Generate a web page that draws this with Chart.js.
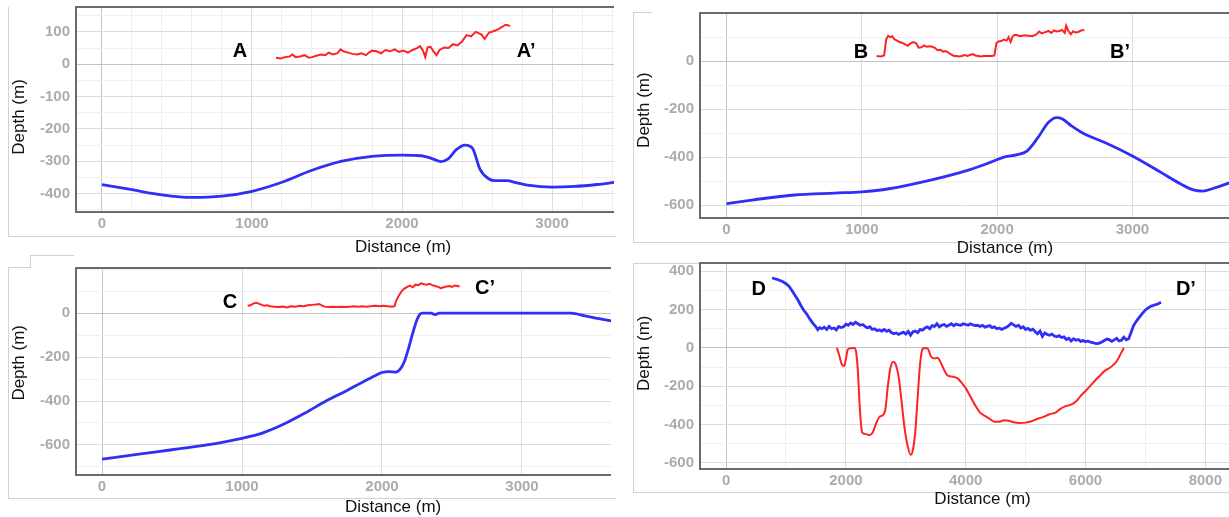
<!DOCTYPE html>
<html>
<head>
<meta charset="utf-8">
<title>Depth profiles A–D</title>
<script src="https://cdn.jsdelivr.net/npm/chart.js@4"></script>
<style>
  html, body { margin: 0; padding: 0; background: #fff; }
  body { width: 1229px; height: 517px; position: relative; overflow: hidden; }
  .clip { position: absolute; top: 0; height: 517px; overflow: hidden; }
  .clip canvas { position: absolute; }
  .frame { position: absolute; border: 0 solid #d2d2d2; }
</style>
</head>
<body>
<!-- light frames left over from the screenshots -->
<div class="frame" style="left:8px;top:7px;width:607px;height:229px;border-left-width:1px;border-bottom-width:1px"></div>
<div class="frame" style="left:633px;top:12px;width:596px;height:230px;border-left-width:1px;border-bottom-width:1px"></div>
<div class="frame" style="left:633px;top:12px;width:19px;height:0;border-top-width:1px"></div>
<div class="frame" style="left:8px;top:267px;width:607px;height:231px;border-left-width:1px;border-bottom-width:1px"></div>
<div class="frame" style="left:8px;top:267px;width:22px;height:0;border-top-width:1px"></div>
<div class="frame" style="left:30px;top:255px;width:43px;height:12px;border-left-width:1px;border-top-width:1px"></div>
<div class="frame" style="left:633px;top:263px;width:596px;height:229px;border-left-width:1px;border-bottom-width:1px"></div>
<div class="frame" style="left:633px;top:263px;width:67px;height:0;border-top-width:1px"></div>

<script>
// ---------- Profile A ----------
const redDistA = [1160,1190,1220,1250,1270,1290,1320,1350,1380,1400,
                  1430,1460,1490,1510,1540,1570,1590,1610,1640,1670,
                  1700,1730,1760,1780,1800,1830,1860,1890,1920,1950,
                  1980,2010,2040,2070,2100,2120,2140,2155,2170,2190,
                  2210,2230,2250,2280,2310,2340,2370,2400,2430,2460,
                  2490,2510,2530,2550,2580,2610,2640,2670,2690,2710,
                  2720];
const redDepthA = [20,18,22,24,30,22,24,28,20,22,
                   26,30,28,36,30,34,46,40,36,32,
                   30,34,28,36,42,40,34,44,40,46,
                   38,42,36,44,50,56,42,22,52,54,
                   40,28,44,52,50,62,58,70,90,86,
                   100,96,92,78,98,102,108,116,122,120,
                   118];
const blueDistA = [0,200,400,600,800,1000,1200,1400,1600,1800,
                   2000,2130,2200,2260,2310,2360,2420,2470,2520,2580,
                   2620,2700,2760,2850,3000,3150,3300,3420];
const blueDepthA = [-372,-388,-404,-412,-408,-393,-365,-328,-300,-285,
                    -281,-283,-292,-301,-292,-265,-250,-260,-325,-355,
                    -360,-360,-366,-375,-380,-378,-372,-365];
const xLabelsA = [0, 1000, 2000, 3000];
const yLabelsA = [100, 0, -100, -200, -300, -400];

// ---------- Profile B ----------
const redDistB = [1110,1140,1165,1180,1195,1210,1225,1240,1260,1280,
                  1300,1320,1340,1360,1380,1400,1420,1440,1460,1480,
                  1500,1520,1540,1560,1580,1600,1620,1640,1660,1680,
                  1700,1720,1740,1760,1780,1800,1820,1840,1860,1880,
                  1900,1930,1960,1980,1995,2010,2030,2050,2070,2085,
                  2100,2115,2130,2150,2170,2200,2230,2260,2290,2310,
                  2330,2350,2380,2400,2420,2440,2460,2480,2500,2510,
                  2525,2545,2560,2580,2600,2620,2645];
const redDepthB = [22,20,24,90,106,100,104,92,86,80,
                   76,70,64,74,80,76,56,58,66,60,
                   62,60,56,46,48,40,42,36,28,22,
                   22,20,22,26,22,26,30,24,22,20,
                   22,22,22,24,76,82,84,90,86,100,
                   80,104,110,108,104,108,106,104,112,124,
                   116,120,126,118,128,124,126,130,118,148,
                   128,112,124,120,122,128,130];
const blueDistB = [0,200,500,800,1000,1200,1500,1800,1950,2050,
                   2150,2220,2300,2380,2440,2480,2550,2650,2800,3000,
                   3200,3350,3450,3520,3600,3720];
const blueDepthB = [-595,-578,-558,-550,-545,-532,-497,-452,-422,-400,
                    -390,-375,-320,-255,-235,-240,-270,-305,-340,-395,
                    -460,-510,-537,-542,-530,-507];
const xLabelsB = [0, 1000, 2000, 3000];
const yLabelsB = [0, -200, -400, -600];

// ---------- Profile C ----------
const redDistC = [1040,1060,1080,1100,1120,1140,1160,1180,1200,
                  1230,1260,1290,1320,1350,1380,1410,1440,1470,1500,
                  1530,1550,1570,1590,1620,1650,1680,1710,1740,1770,
                  1800,1830,1860,1890,1920,1950,1980,2010,2040,2070,
                  2090,2100,2120,2140,2160,2180,2200,2220,2240,2260,
                  2280,2300,2320,2340,2360,2380,2400,2420,2440,2460,
                  2480,2500,2520,2540,2555];
const redDepthC = [34,36,44,48,44,38,34,36,32,
                   30,28,30,26,32,30,34,32,36,38,
                   40,42,36,30,28,30,28,30,28,30,
                   32,30,32,30,32,34,32,34,32,30,
                   32,55,80,100,112,120,126,118,130,128,
                   136,132,130,134,128,124,120,114,118,122,
                   124,120,126,124,122];
const blueDistC = [0,250,500,750,1000,1150,1300,1450,1600,1750,
                   1850,1950,2000,2050,2100,2130,2160,2190,2220,2250,
                   2270,2290,2350,2380,2410,2500,3000,3350,3450,3550,
                   3650];
const blueDepthC = [-665,-643,-622,-600,-570,-545,-505,-455,-400,-352,
                    -318,-285,-270,-266,-268,-255,-220,-160,-90,-30,
                    -5,0,0,-6,0,0,0,0,-12,-25,
                    -36];
const xLabelsC = [0, 1000, 2000, 3000];
const yLabelsC = [0, -200, -400, -600];

// ---------- Profile D ----------
const blueDistD = [770,800,850,900,950,1000,1050,1100,1150,1200,
                   1250,1300,1350,1400,1450,1500,1530,1560,1600,1640,
                   1680,1720,1760,1800,1840,1880,1920,1960,2000,2040,
                   2080,2120,2160,2200,2240,2280,2320,2360,2400,2440,
                   2480,2520,2560,2600,2640,2680,2720,2760,2800,2840,
                   2880,2920,2960,3000,3040,3080,3120,3160,3200,3240,
                   3280,3320,3360,3400,3440,3480,3520,3560,3600,3640,
                   3680,3720,3760,3800,3840,3880,3920,3960,4000,4040,
                   4080,4120,4160,4200,4240,4280,4320,4360,4400,4440,
                   4480,4520,4560,4600,4640,4680,4720,4760,4800,4840,
                   4880,4920,4960,5000,5040,5080,5120,5160,5200,5240,
                   5280,5320,5360,5400,5440,5480,5520,5560,5600,5640,
                   5680,5720,5760,5800,5840,5880,5920,5960,6000,6040,
                   6080,6120,6160,6200,6240,6280,6320,6360,6400,6440,
                   6480,6520,6560,6600,6640,6680,6720,6760,6800,6850,
                   6900,6950,7000,7050,7100,7150,7200,7260];
const blueDepthD = [365,362,358,352,345,335,322,300,275,250,
                    220,195,175,150,128,110,95,105,100,108,
                    96,112,100,104,94,112,106,110,124,118,
                    130,122,134,126,118,122,112,104,110,96,
                    100,90,94,88,96,86,92,80,74,78,
                    70,76,82,72,86,66,84,88,80,96,
                    92,104,110,100,116,112,126,110,118,122,
                    112,118,126,116,124,120,118,126,122,118,
                    126,120,116,118,112,118,108,112,116,106,
                    110,100,104,96,102,108,116,128,120,112,
                    118,104,110,96,102,92,98,84,74,88,
                    60,78,70,66,72,62,58,64,54,58,
                    44,50,36,48,40,44,34,38,32,36,
                    30,28,24,22,26,32,40,46,42,34,
                    42,50,36,40,56,42,48,80,115,140,
                    160,180,198,210,218,224,228,238];
const redDistD = [1850,1890,1930,1970,2000,2030,2080,2140,2170,2200,
                  2230,2270,2330,2400,2450,2510,2560,2620,2660,2700,
                  2740,2790,2830,2880,2930,2980,3030,3080,3120,3160,
                  3200,3240,3280,3320,3370,3420,3480,3530,3580,3640,
                  3700,3780,3860,3940,4000,4080,4160,4240,4320,4400,
                  4480,4560,4640,4720,4800,4900,5000,5100,5200,5300,
                  5400,5500,5580,5660,5760,5840,5920,6000,6080,6160,
                  6240,6320,6400,6460,6520,6580,6640];
const redDepthD = [0,-40,-85,-95,-60,-10,-2,0,-20,-120,
                   -300,-440,-450,-455,-440,-390,-360,-350,-320,-200,
                   -110,-72,-85,-150,-280,-420,-510,-558,-530,-430,
                   -250,-80,-5,0,-5,-45,-55,-52,-75,-115,
                   -145,-150,-158,-185,-210,-255,-300,-338,-355,-370,
                   -385,-385,-378,-380,-388,-392,-390,-383,-370,-360,
                   -346,-338,-318,-305,-296,-280,-250,-225,-198,-170,
                   -145,-120,-105,-90,-70,-35,0];
const xLabelsD = [0, 2000, 4000, 6000, 8000];
const yLabelsD = [400, 200, 0, -200, -400, -600];

// ---------- panel layout (page pixels) ----------
// x / y: [min, max, gridline step]
const panels = [
  { clip: [0, 614], canvas: [0, -23, 640, 283], plot: [76, 7, 614, 212],
    x: [-173, 3413, 200], y: [-457, 177, 50],
    xLabels: xLabelsA, yLabels: yLabelsA,
    red: [redDistA, redDepthA], blue: [blueDistA, blueDepthA], redSmooth: false, blueSmooth: true,
    letters: [['A', 920, 38], ['A\u2019', 2827, 38]],
    xTitle: [2007, 35], yTitle: [-163, 57] },
  { clip: [620, 1229], canvas: [620, -17, 640, 277], plot: [700, 13, 1229, 218],
    x: [-196, 3714, 1000], y: [-654, 201, 100],
    xLabels: xLabelsB, yLabels: yLabelsB,
    red: [redDistB, redDepthB], blue: [blueDistB, blueDepthB], redSmooth: false, blueSmooth: true,
    letters: [['B', 994, 37], ['B\u2019', 2908, 37]],
    xTitle: [2058, 30], yTitle: [-204, 56] },
  { clip: [0, 611], canvas: [0, 238, 640, 287], plot: [76, 268, 611, 475],
    x: [-186, 3636, 1000], y: [-737, 206, 100],
    xLabels: xLabelsC, yLabels: yLabelsC,
    red: [redDistC, redDepthC], blue: [blueDistC, blueDepthC], redSmooth: false, blueSmooth: true,
    letters: [['C', 914, 51], ['C\u2019', 2736, 111]],
    xTitle: [2079, 32], yTitle: [-226, 57] },
  { clip: [620, 1229], canvas: [620, 233, 640, 292], plot: [700, 263, 1229, 469],
    x: [-435, 8395, 1000], y: [-632, 443, 100],
    xLabels: xLabelsD, yLabels: yLabelsD,
    red: [redDistD, redDepthD], blue: [blueDistD, blueDepthD], redSmooth: true, blueSmooth: false,
    letters: [['D', 545, 307], ['D\u2019', 7676, 307]],
    xTitle: [4281, 30], yTitle: [-28, 56] }
];

const FONT = "'Liberation Sans', Arial, Helvetica, sans-serif";
const BLUE = '#2f2ff5';
const RED = '#ff2222';

// plot border, A/B/C/D letters and axis titles
const panelDecor = {
    id: 'panelDecor',
    afterDraw(chart, args, opts) {
        const { ctx, chartArea: a, scales: { x, y } } = chart;
        ctx.save();
        ctx.strokeStyle = '#6a6a6a';
        ctx.lineWidth = 2;
        ctx.beginPath();
        ctx.moveTo(a.right + 30, a.top);
        ctx.lineTo(a.left, a.top);
        ctx.lineTo(a.left, a.bottom);
        ctx.lineTo(a.right + 30, a.bottom);
        ctx.stroke();

        ctx.fillStyle = '#000';
        ctx.textAlign = 'center';
        ctx.textBaseline = 'middle';
        ctx.font = 'bold 20px ' + FONT;
        opts.letters.forEach(([t, vx, vy]) => {
            ctx.fillText(t, x.getPixelForValue(vx), y.getPixelForValue(vy));
        });

        ctx.font = '17px ' + FONT;
        ctx.fillStyle = '#111';
        ctx.fillText('Distance (m)', x.getPixelForValue(opts.xTitle[0]), a.bottom + opts.xTitle[1]);
        ctx.translate(a.left - opts.yTitle[1], y.getPixelForValue(opts.yTitle[0]));
        ctx.rotate(-Math.PI / 2);
        ctx.fillText('Depth (m)', 0, 0);
        ctx.restore();
    }
};

function toPoints(pair) {
    return pair[0].map((d, i) => ({ x: d, y: pair[1][i] }));
}

function gridColor(value, labels) {
    if (value === 0) return '#c4c4c4';
    if (labels.includes(value)) return '#dcdcdc';
    return '#efefef';
}

// gridline positions: every multiple of the step inside the range
// (Chart.js snaps big steps to the bounds otherwise)
function gridTicks(range) {
    const [min, max, step] = range;
    const out = [];
    for (let v = Math.ceil(min / step) * step; v <= max; v += step) {
        out.push({ value: v });
    }
    return out;
}

function axis(range, labels, fitFn, pad) {
    return {
        type: 'linear',
        min: range[0],
        max: range[1],
        afterFit: fitFn,
        afterBuildTicks: s => { s.ticks = gridTicks(range); },
        border: { display: false },
        grid: {
            drawTicks: false,
            lineWidth: 1,
            color: c => gridColor(c.tick ? c.tick.value : null, labels)
        },
        ticks: {
            autoSkip: false,
            maxRotation: 0,
            padding: pad,
            color: '#acacac',
            font: { family: FONT, size: 15, weight: 'bold' },
            callback: v => (labels.includes(v) ? String(v) : '')
        }
    };
}

function lineSet(pair, color, width, smooth) {
    return {
        data: toPoints(pair),
        borderColor: color,
        borderWidth: width,
        pointRadius: 0,
        fill: false,
        tension: smooth ? 0.4 : 0,
        cubicInterpolationMode: smooth ? 'monotone' : 'default'
    };
}

panels.forEach(p => {
    const [cl, cr] = p.clip;
    const [cx, cy, cw, ch] = p.canvas;
    const [pl, pt, pr, pb] = p.plot;

    const clip = document.createElement('div');
    clip.className = 'clip';
    clip.style.left = cl + 'px';
    clip.style.width = (cr - cl) + 'px';
    const canvas = document.createElement('canvas');
    canvas.width = cw;
    canvas.height = ch;
    canvas.style.width = cw + 'px';
    canvas.style.height = ch + 'px';
    canvas.style.left = (cx - cl) + 'px';
    canvas.style.top = cy + 'px';
    clip.appendChild(canvas);
    document.body.appendChild(clip);

    new Chart(canvas, {
        type: 'line',
        data: {
            datasets: [
                lineSet(p.blue, BLUE, 2.8, p.blueSmooth),
                lineSet(p.red, RED, 2, p.redSmooth)
            ]
        },
        options: {
            responsive: false,
            animation: false,
            events: [],
            layout: { padding: { top: pt - cy, right: cx + cw - pr, bottom: 0, left: 0 } },
            plugins: {
                legend: { display: false },
                tooltip: { enabled: false },
                panelDecor: { letters: p.letters, xTitle: p.xTitle, yTitle: p.yTitle }
            },
            scales: {
                x: axis(p.x, p.xLabels, s => { s.height = cy + ch - pb; }, 3),
                y: axis(p.y, p.yLabels, s => { s.width = pl - cx; }, 6)
            }
        },
        plugins: [panelDecor]
    });
});
</script>
</body>
</html>
